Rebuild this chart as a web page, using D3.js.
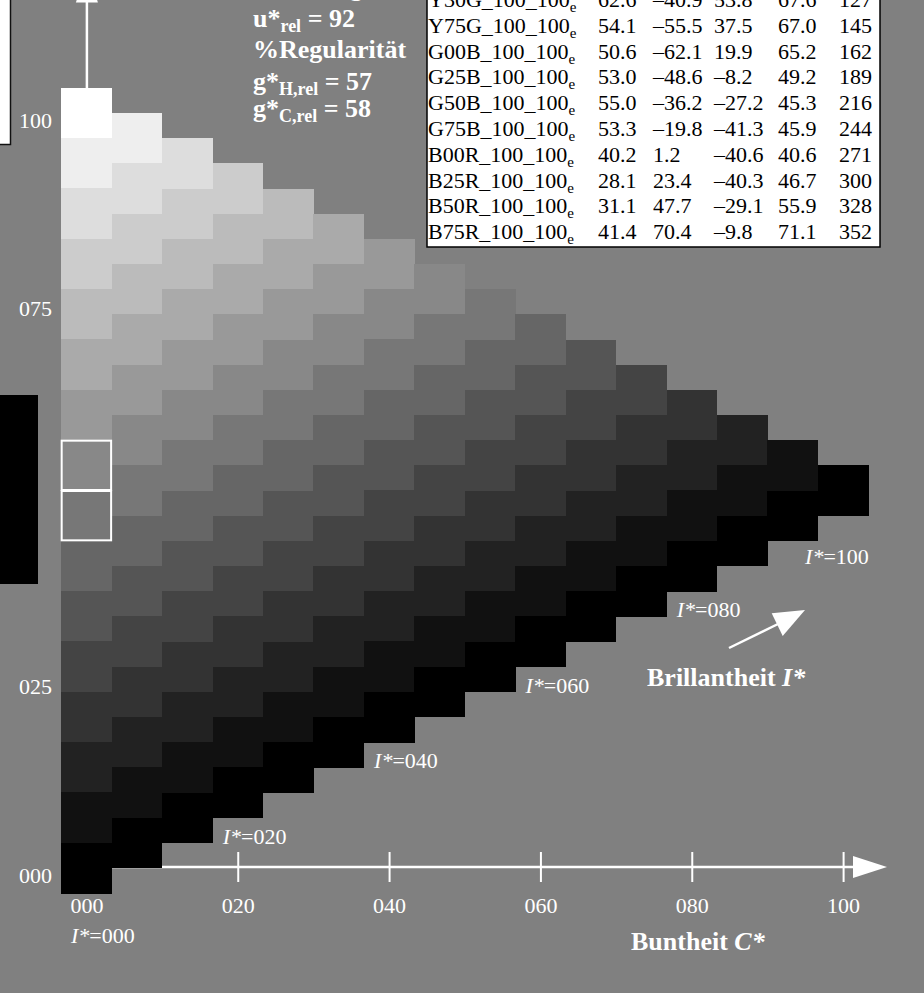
<!DOCTYPE html>
<html>
<head>
<meta charset="utf-8">
<script src="https://cdn.jsdelivr.net/npm/d3@7"></script>
<style>
body { margin: 0; background: #808080; }
svg { display: block; font-family: "Liberation Serif", "Times New Roman", serif; }
</style>
</head>
<body>
<div id="chart"></div>
<script>
// chroma C* of each column, lightness L* of each row step, grey of each diagonal step
const chromaSteps = [0, 6.667, 13.333, 20, 26.667, 33.333, 40, 46.667, 53.333, 60, 66.667, 73.333, 80, 86.667, 93.333, 100];
const lightnessSteps = [100, 93.333, 86.667, 80, 73.333, 66.667, 60, 53.333, 46.667, 40, 33.333, 26.667, 20, 13.333, 6.667, 0];
const greyLevels = ["#ffffff", "#eeeeee", "#dddddd", "#cccccc", "#bbbbbb", "#aaaaaa", "#999999", "#888888",
                    "#777777", "#666666", "#555555", "#444444", "#333333", "#222222", "#111111", "#000000"];
const highlightRows = [7, 8];

const xTicks = [0, 20, 40, 60, 80, 100];
const yTicks = [0, 25, 75, 100];
const brillianceLabels = ["000", "020", "040", "060", "080", "100"];

// table rows
const tableNames = ["Y30G", "Y75G", "G00B", "G25B", "G50B", "G75B", "B00R", "B25R", "B50R", "B75R"];
const tableL = [62.6, 54.1, 50.6, 53.0, 55.0, 53.3, 40.2, 28.1, 31.1, 41.4];
const tableA = [-40.9, -55.5, -62.1, -48.6, -36.2, -19.8, 1.2, 23.4, 47.7, 70.4];
const tableB = [53.8, 37.5, 19.9, -8.2, -27.2, -41.3, -40.6, -40.3, -29.1, -9.8];
const tableC = [67.6, 67.0, 65.2, 49.2, 45.3, 45.9, 40.6, 46.7, 55.9, 71.1];
const tableH = [127, 145, 162, 189, 216, 244, 271, 300, 328, 352];

const uRel = 92;
const gHRel = 57;
const gCRel = 58;

const width = 924, height = 993;

const svg = d3.select("#chart")
    .append("svg")
    .attr("width", width)
    .attr("height", height);

svg.append("rect")
    .attr("width", width)
    .attr("height", height)
    .attr("fill", "#808080");

const xScale = d3.scaleLinear().domain([0, 100]).range([86.4, 843.1]);
const yScale = d3.scaleLinear().domain([0, 100]).range([868, 113]);

const cellW = xScale(chromaSteps[1]) - xScale(0);
const cellH = yScale(0) - yScale(lightnessSteps[14]);

// build the cells
let cells = [];
chromaSteps.forEach(function(c, i) {
    for (let k = 0; k < chromaSteps.length - i; k++) {
        cells.push({col: i, row: k, C: c, L: lightnessSteps[k] - c / 2, grey: greyLevels[i + k]});
    }
});

/* AXES (drawn first, the cells cover parts of them) */
const axisY = yScale(0) - 1;

const xAxis = svg.append("g")
    .attr("transform", `translate(0,${axisY})`)
    .call(d3.axisBottom(xScale).tickValues(xTicks).tickFormat(d3.format("03d")).tickSize(15));
xAxis.select(".domain").remove();
xAxis.selectAll(".tick line")
    .attr("y1", -15).attr("y2", 15)
    .attr("stroke", "#fff").attr("stroke-width", 2);
xAxis.selectAll(".tick text")
    .attr("y", 46).attr("dy", 0)
    .attr("fill", "#fff")
    .style("font-family", "Liberation Serif")
    .style("font-size", "22px");

svg.append("line")
    .attr("x1", xScale(0)).attr("x2", 856)
    .attr("y1", axisY).attr("y2", axisY)
    .attr("stroke", "#fff").attr("stroke-width", 2.5);
svg.append("path")
    .attr("d", `M853,${axisY - 11}L887,${axisY}L853,${axisY + 11}Z`)
    .attr("fill", "#fff");

const yAxisX = xScale(0) + 0.5;
const yAxis = svg.append("g")
    .attr("transform", `translate(${yAxisX},0)`)
    .call(d3.axisLeft(yScale).tickValues(yTicks).tickFormat(d3.format("03d")).tickSize(0));
yAxis.select(".domain").remove();
yAxis.selectAll(".tick text")
    .attr("x", -35).attr("dy", 14)
    .attr("fill", "#fff")
    .style("font-family", "Liberation Serif")
    .style("font-size", "22px");

svg.append("line")
    .attr("x1", yAxisX).attr("x2", yAxisX)
    .attr("y1", yScale(0)).attr("y2", 2)
    .attr("stroke", "#fff").attr("stroke-width", 2.5);
svg.append("path")
    .attr("d", `M${yAxisX - 11},2.5L${yAxisX},-32L${yAxisX + 11},2.5Z`)
    .attr("fill", "#fff");

/* CELLS */
svg.append("g")
    .selectAll("rect")
    .data(cells)
    .enter()
    .append("rect")
        .attr("x", function(d) { return xScale(d.C) - cellW / 2; })
        .attr("y", function(d) { return yScale(d.L) - cellH / 2; })
        .attr("width", cellW + 0.4)
        .attr("height", cellH + 0.4)
        .attr("fill", function(d) { return d.grey; })
        .attr("shape-rendering", "crispEdges");

svg.append("g")
    .selectAll("rect")
    .data(cells.filter(function(d) { return d.col === 0 && highlightRows.includes(d.row); }))
    .enter()
    .append("rect")
        .attr("x", function(d) { return xScale(d.C) - cellW / 2 + 0.5; })
        .attr("y", function(d) { return yScale(d.L) - cellH / 2 + 0.5; })
        .attr("width", cellW - 1)
        .attr("height", cellH - 1)
        .attr("fill", "none")
        .attr("stroke", "#fff")
        .attr("stroke-width", 2);

/* I* LABELS along the lower edge */
const iLabels = svg.append("g")
    .attr("fill", "#fff")
    .style("font-size", "22px");
brillianceLabels.forEach(function(t, j) {
    let x, y;
    if (j === 0) { x = xScale(0) - 15.5; y = 943; }
    else if (j === brillianceLabels.length - 1) { x = xScale(100) - 38; y = yScale(40.3); }
    else { x = xScale(20 * j) - 15; y = yScale(10 * j - 6.8); }
    const txt = iLabels.append("text").attr("x", x).attr("y", y);
    txt.append("tspan").style("font-style", "italic").text("I*");
    txt.append("tspan").text("=" + t);
});

/* AXIS TITLES */
const bTitle = svg.append("text")
    .attr("x", 647).attr("y", 686)
    .attr("fill", "#fff")
    .style("font-size", "26px").style("font-weight", "bold");
bTitle.append("tspan").text("Brillantheit ");
bTitle.append("tspan").style("font-style", "italic").text("I*");

svg.append("line")
    .attr("x1", 729).attr("y1", 648)
    .attr("x2", 778).attr("y2", 624)
    .attr("stroke", "#fff").attr("stroke-width", 2.5);
svg.append("path")
    .attr("d", "M805,610L771.7,613.3L782.7,636Z")
    .attr("fill", "#fff");

const cTitle = svg.append("text")
    .attr("x", 631).attr("y", 950)
    .attr("fill", "#fff")
    .style("font-size", "26px").style("font-weight", "bold");
cTitle.append("tspan").text("Buntheit ");
cTitle.append("tspan").style("font-style", "italic").text("C*");

/* LEFT BLACK BAR AND CUT LEGEND BOX */
svg.append("rect")
    .attr("x", 0).attr("y", 395)
    .attr("width", 38).attr("height", 189)
    .attr("fill", "#000");

svg.append("rect")
    .attr("x", -5).attr("y", -5)
    .attr("width", 15.5).attr("height", 149.5)
    .attr("fill", "#fff")
    .attr("stroke", "#111").attr("stroke-width", 1.5);

/* INFO TEXT */
const info = svg.append("g")
    .attr("fill", "#fff")
    .style("font-size", "26px").style("font-weight", "bold");

info.append("text").attr("x", 253).attr("y", -4).text("Mittelung");

function subLine(y, main, sub, rest) {
    const t = info.append("text").attr("x", 253).attr("y", y);
    t.append("tspan").text(main);
    t.append("tspan").attr("dy", 5).style("font-size", "18px").text(sub);
    t.append("tspan").attr("dy", -5).text(rest);
}
subLine(27, "u*", "rel", " = " + uRel);
info.append("text").attr("x", 253).attr("y", 58).text("%Regularität");
subLine(90, "g*", "H,rel", " = " + gHRel);
subLine(117, "g*", "C,rel", " = " + gCRel);

/* TABLE */
svg.append("rect")
    .attr("x", 427).attr("y", -20)
    .attr("width", 453).attr("height", 267)
    .attr("fill", "#fff")
    .attr("stroke", "#000").attr("stroke-width", 1.5);

const fmt = function(v) { return d3.format(".1f")(v).replace("\u2212", "\u2013").replace("-", "\u2013"); };
const colX = [598, 653, 714, 778, 839];
const table = svg.append("g")
    .attr("fill", "#000")
    .style("font-size", "22px");

tableNames.forEach(function(name, r) {
    const y = 7 + r * 25.8;
    const t = table.append("text").attr("x", 428).attr("y", y);
    t.append("tspan").text(name + "_100_100");
    t.append("tspan").attr("dy", 5).style("font-size", "15px").text("e");
    const vals = [fmt(tableL[r]), fmt(tableA[r]), fmt(tableB[r]), fmt(tableC[r]), String(tableH[r])];
    vals.forEach(function(v, c) {
        table.append("text").attr("x", colX[c]).attr("y", y).text(v);
    });
});
</script>
</body>
</html>
